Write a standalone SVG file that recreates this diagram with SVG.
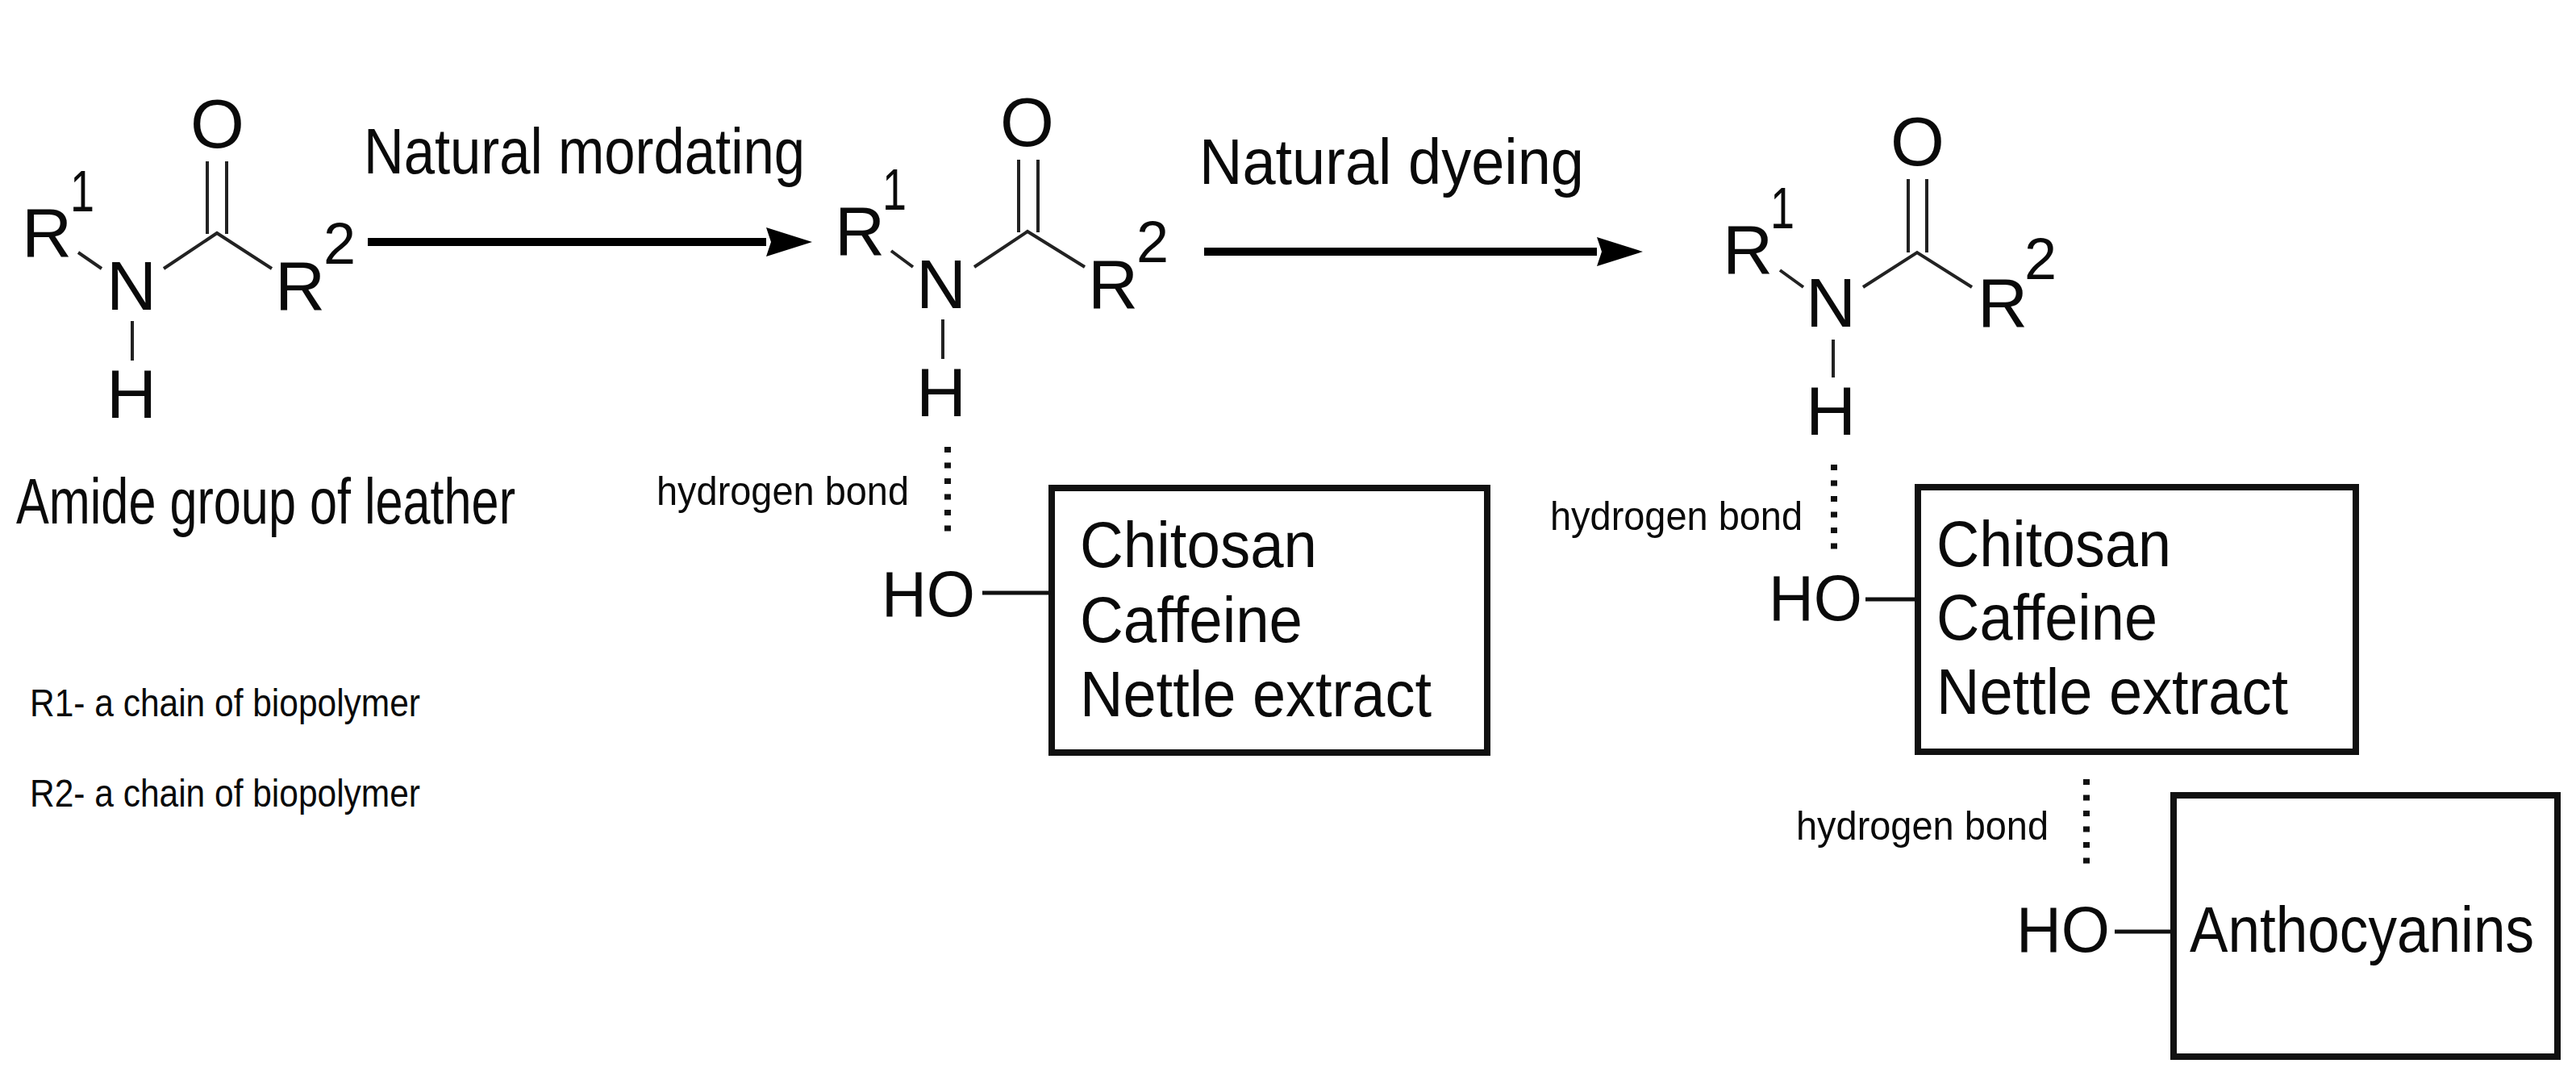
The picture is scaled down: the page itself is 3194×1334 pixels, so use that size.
<svg xmlns="http://www.w3.org/2000/svg" width="3194" height="1334" viewBox="0 0 3194 1334">
<style>
text{font-family:"Liberation Sans",Arial,sans-serif;fill:#0a0a0a}
.a{font-size:86px}
.o{font-size:80px}
.s{font-size:72px}
.l{font-size:80px}
.h{font-size:50px}
.k{font-size:48px}
.b{stroke:#222;stroke-width:4;fill:none}
.c{stroke:#111;stroke-width:5;fill:none}
.d{stroke:#111;stroke-width:8;fill:none;stroke-dasharray:7 12.5}
.x{fill:#fff;stroke:#111;stroke-width:8}
.r{stroke:#000;stroke-width:10;fill:none}
</style>
<defs>
<marker id="ah" markerUnits="userSpaceOnUse" markerWidth="60" markerHeight="40" refX="0" refY="20" orient="auto" overflow="visible">
<path d="M0 2 L57 20 L0 38 L6 20 Z" fill="#000"/>
</marker>
</defs>
<rect width="3194" height="1334" fill="#fff"/>

<g id="connectors">
<line class="r" x1="456" y1="300" x2="950" y2="300" marker-end="url(#ah)"/>
<line class="r" x1="1493" y1="312" x2="1980" y2="312" marker-end="url(#ah)"/>
<line class="d" x1="1175" y1="554" x2="1175" y2="670"/>
<line class="c" x1="1218" y1="735" x2="1304" y2="735"/>
<line class="d" x1="2274" y1="576" x2="2274" y2="692"/>
<line class="c" x1="2313" y1="743" x2="2378" y2="743"/>
<line class="d" x1="2587" y1="966" x2="2587" y2="1082"/>
<line class="c" x1="2622" y1="1155" x2="2694" y2="1155"/>
</g>

<g id="amide-1">
<path class="b" d="M257 200V290M281 200V290M203 333L269 289L337 333M97 313L126 333M164 398V447"/>
<text class="a" x="236" y="183">O</text>
<text class="a" x="27" y="318">R</text>
<text class="s" x="87" y="262" textLength="30" lengthAdjust="spacingAndGlyphs">1</text>
<text class="a" x="132" y="384">N</text>
<text class="a" x="132" y="518">H</text>
<text class="a" x="341" y="384">R</text>
<text class="s" x="401" y="327">2</text>
</g>
<g id="label-amide">
<text class="l" x="20" y="649" textLength="619" lengthAdjust="spacingAndGlyphs">Amide group of leather</text>
</g>
<g id="label-mordanting">
<text class="l" x="451" y="215" textLength="547" lengthAdjust="spacingAndGlyphs">Natural mordating</text>
</g>
<g id="amide-2">
<path class="b" d="M1263 198V288M1287 198V288M1208 331L1274 287L1345 331M1105 311L1132 331M1169 396V445"/>
<text class="a" x="1240" y="181">O</text>
<text class="a" x="1035" y="316">R</text>
<text class="s" x="1094" y="260" textLength="30" lengthAdjust="spacingAndGlyphs">1</text>
<text class="a" x="1136" y="382">N</text>
<text class="a" x="1136" y="516">H</text>
<text class="a" x="1349" y="382">R</text>
<text class="s" x="1409" y="325">2</text>
</g>
<g id="label-dyeing">
<text class="l" x="1487" y="228" textLength="477" lengthAdjust="spacingAndGlyphs">Natural dyeing</text>
</g>
<g id="amide-3">
<path class="b" d="M2366 222V313M2389 222V313M2310 356L2377 313L2445 356M2207 335L2236 356M2273 421V468"/>
<text class="a" x="2344" y="205">O</text>
<text class="a" x="2136" y="339">R</text>
<text class="s" x="2195" y="283" textLength="30" lengthAdjust="spacingAndGlyphs">1</text>
<text class="a" x="2239" y="405">N</text>
<text class="a" x="2239" y="539">H</text>
<text class="a" x="2452" y="405">R</text>
<text class="s" x="2510" y="346">2</text>
</g>

<g id="hbond-1">
<text class="h" x="814" y="626" textLength="313" lengthAdjust="spacingAndGlyphs">hydrogen bond</text>
</g>
<g id="ho-1">
<text class="o" x="1093" y="764" textLength="116" lengthAdjust="spacingAndGlyphs">HO</text>
</g>
<g id="box-mordants-1">
<rect class="x" x="1304" y="605" width="540" height="328"/>
<text class="l" x="1339" y="703" textLength="294" lengthAdjust="spacingAndGlyphs">Chitosan</text>
<text class="l" x="1339" y="796" textLength="276" lengthAdjust="spacingAndGlyphs">Caffeine</text>
<text class="l" x="1339" y="888" textLength="436" lengthAdjust="spacingAndGlyphs">Nettle extract</text>
</g>

<g id="hbond-2">
<text class="h" x="1922" y="657" textLength="313" lengthAdjust="spacingAndGlyphs">hydrogen bond</text>
</g>
<g id="ho-2">
<text class="o" x="2193" y="769" textLength="116" lengthAdjust="spacingAndGlyphs">HO</text>
</g>
<g id="box-mordants-2">
<rect class="x" x="2378" y="604" width="543" height="328"/>
<text class="l" x="2401" y="702" textLength="291" lengthAdjust="spacingAndGlyphs">Chitosan</text>
<text class="l" x="2401" y="793" textLength="274" lengthAdjust="spacingAndGlyphs">Caffeine</text>
<text class="l" x="2401" y="885" textLength="436" lengthAdjust="spacingAndGlyphs">Nettle extract</text>
</g>

<g id="hbond-3">
<text class="h" x="2227" y="1041" textLength="313" lengthAdjust="spacingAndGlyphs">hydrogen bond</text>
</g>
<g id="ho-3">
<text class="o" x="2500" y="1180" textLength="116" lengthAdjust="spacingAndGlyphs">HO</text>
</g>
<g id="box-anthocyanins">
<rect class="x" x="2695" y="986" width="476" height="324"/>
<text class="l" x="2715" y="1180" textLength="427" lengthAdjust="spacingAndGlyphs">Anthocyanins</text>
</g>

<g id="legend">
<text class="k" x="37" y="888" textLength="484" lengthAdjust="spacingAndGlyphs">R1- a chain of biopolymer</text>
<text class="k" x="37" y="1000" textLength="484" lengthAdjust="spacingAndGlyphs">R2- a chain of biopolymer</text>
</g>
</svg>
